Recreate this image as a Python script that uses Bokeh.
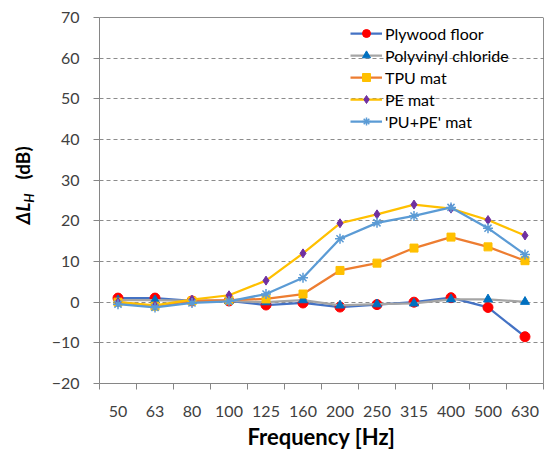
from bokeh.plotting import figure
from bokeh.models import (Range1d, FixedTicker, Legend, LegendItem, Span, Div)
from bokeh.layouts import row
from bokeh.embed import file_html
from bokeh.resources import INLINE

freqs = ["50", "63", "80", "100", "125", "160", "200", "250", "315", "400", "500", "630"]
plywood = [1.0, 1.0, 0.3, 0.3, -0.7, -0.2, -1.2, -0.6, 0.0, 1.1, -1.3, -8.5]
pvc = [0.5, 0.5, 0.3, 0.3, 0.0, 0.5, -0.8, -0.5, -0.3, 0.7, 0.7, 0.1]
tpu = [0.0, -1.0, 0.3, 0.5, 0.8, 2.0, 7.8, 9.6, 13.3, 16.0, 13.6, 10.2]
pe = [0.0, -0.8, 0.6, 1.7, 5.3, 12.0, 19.4, 21.6, 24.0, 23.0, 20.2, 16.4]
pupe = [-0.5, -1.3, -0.2, 0.2, 2.0, 6.0, 15.6, 19.5, 21.2, 23.3, 18.2, 11.7]
y_ticks = [-20, -10, 0, 10, 20, 30, 40, 50, 60, 70]

xs = list(range(len(freqs)))
FONT = "Lato"
LABEL_W = 40

p = figure(width=545 - LABEL_W, height=452, output_backend="svg", toolbar_location=None,
           x_range=Range1d(-0.5, len(freqs) - 0.5), y_range=Range1d(y_ticks[0], y_ticks[-1]),
           min_border_left=99 - LABEL_W, min_border_right=2, min_border_top=17, min_border_bottom=68,
           margin=0)
p.outline_line_color = None
p.background_fill_color = "white"
p.border_fill_color = "white"

# axes
xa = p.xaxis[0]
xa.ticker = FixedTicker(ticks=xs, minor_ticks=[i - 0.5 for i in range(len(freqs) + 1)])
xa.major_label_overrides = {i: f for i, f in zip(xs, freqs)}
xa.major_tick_out = 0
xa.major_tick_in = 0
xa.minor_tick_out = 6
xa.minor_tick_in = 0
xa.minor_tick_line_color = "#868686"
xa.axis_line_color = "#868686"
xa.major_label_text_font = FONT
xa.major_label_text_font_size = "16px"
xa.major_label_text_color = "#404040"
xa.major_label_standoff = 16
xa.axis_label = "Frequency [Hz]"
xa.axis_label_text_font = FONT
xa.axis_label_text_font_style = "bold"
xa.axis_label_text_font_size = "22px"
xa.axis_label_text_color = "#000000"
xa.axis_label_standoff = 3

ya = p.yaxis[0]
ya.ticker = FixedTicker(ticks=y_ticks, minor_ticks=[])
ya.major_tick_out = 6
ya.major_tick_in = 0
ya.major_tick_line_color = "#868686"
ya.axis_line_color = "#868686"
ya.major_label_text_font = FONT
ya.major_label_text_font_size = "16px"
ya.major_label_text_color = "#404040"
ya.major_label_standoff = 14
ya.axis_label = None

p.xgrid.grid_line_color = None
p.ygrid.grid_line_color = "#8c8c8c"
p.ygrid.grid_line_dash = "4 3"
p.ygrid.grid_line_width = 1

p.add_layout(Span(location=y_ticks[-1], dimension="width", line_color="#1a1a1a", line_width=1))
p.add_layout(Span(location=len(freqs) - 0.5, dimension="height", line_color="#1a1a1a", line_width=1))

series = [
    ("Plywood floor", plywood, "#4472C4", "circle", "#FF0000", 10),
    ("Polyvinyl chloride", pvc, "#A5A5A5", "triangle", "#0070C0", 9),
    ("TPU mat", tpu, "#ED7D31", "square", "#FFC000", 8),
    ("PE mat", pe, "#FFC000", "diamond", "#7030A0", 9),
    ("'PU+PE' mat", pupe, "#5B9BD5", "asterisk", "#5B9BD5", 10),
]
items = []
for name, ys, lc, mk, mc, sz in series:
    l = p.line(xs, ys, line_color=lc, line_width=2.25)
    m = p.scatter(xs, ys, marker=mk, size=sz, fill_color=mc, line_color=mc, line_width=1.5 if mk == "asterisk" else 1)
    items.append(LegendItem(label=name, renderers=[l, m]))

legend = Legend(items=items, location=(251, 252), padding=0, margin=0, spacing=2,
                glyph_width=32, glyph_height=20, label_height=20, label_standoff=3,
                label_text_font=FONT, label_text_font_size="16px", label_text_color="#000000",
                background_fill_alpha=0, border_line_color=None)
p.add_layout(legend)

# rotated y-axis title with subscript, as HTML text
ylab_html = (
    f'<div style="width:{LABEL_W}px;height:452px;display:flex;align-items:center;justify-content:center;background:white;">'
    f'<div style="position:relative;left:6px;top:-41px;transform:rotate(-90deg);white-space:nowrap;'
    f'font-family:{FONT};font-weight:bold;font-size:19px;color:#000;line-height:20px;">'
    '<i>ΔL<sub style="font-size:13px;">H</sub></i>&nbsp;&nbsp;&nbsp;(dB)</div></div>'
)
ylab = Div(text=ylab_html, width=LABEL_W, height=452, margin=0)

layout = row(ylab, p, spacing=0)
open("out.html", "w").write(file_html(layout, INLINE))
